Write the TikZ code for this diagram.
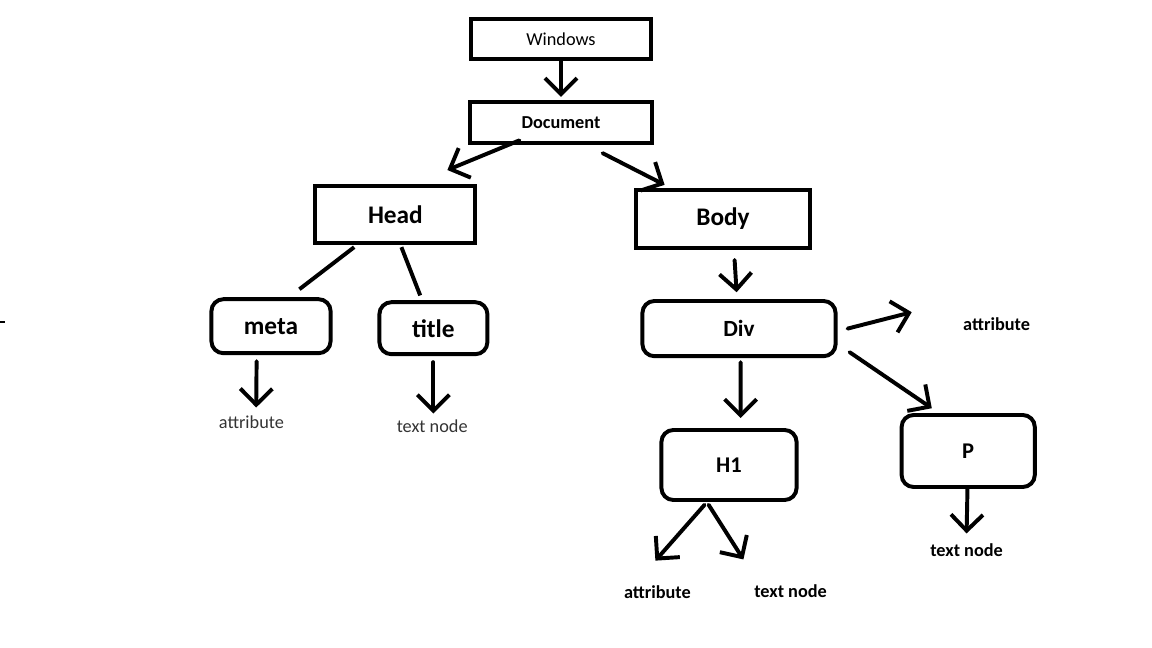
\documentclass[tikz,border=0pt]{standalone}
\usepackage{fontspec}
\setmainfont{Carlito}
\usetikzlibrary{arrows.meta}
\usetikzlibrary{positioning}
\tikzstyle{every node}+=[inner sep=0pt]
\tikzstyle{block} = [rectangle, draw, line width=2.8pt, text centered, font=\bfseries]
\tikzstyle{rblock} = [block, rounded corners=0.3cm]
\tikzstyle{line} = [draw, line width=2.8pt, line cap=round, -{Straight Barb[length=0.4cm, width=0.8cm]}]
\tikzstyle{edge} = [draw, line width=2.8pt]
\tikzstyle{value} = [black, font=\bfseries\fontsize{13}{15}\selectfont]
\tikzstyle{plainvalue} = [black!80, font=\fontsize{13}{15}\selectfont]

\begin{document}
\begin{tikzpicture}[node distance = 2cm]
            \useasboundingbox (0,0) rectangle (28.8,-16.2);
            % Place nodes
            \node [block, font=\fontsize{13}{15}\selectfont, minimum width=4.5cm, minimum height=1.0cm] (n0) at (14.025,-0.975) {Windows};
            \node [block, font=\bfseries\fontsize{13}{15}\selectfont, minimum width=4.53cm, minimum height=1.03cm, below of=n0, node distance=2.09cm] (n1) {Document};
            \node [block, font=\bfseries\fontsize{18}{20}\selectfont, minimum width=4.0cm, minimum height=1.43cm, below of=n1, node distance=2.3cm, xshift=-4.14cm] (n2) {Head};
            \node [block, font=\bfseries\fontsize{18}{20}\selectfont, minimum width=4.33cm, minimum height=1.45cm, below of=n1, node distance=2.41cm, xshift=4.05cm] (n3) {Body};
            \node [rblock, font=\bfseries\fontsize{18}{20}\selectfont, minimum width=2.98cm, minimum height=1.35cm, below of=n2, node distance=2.79cm, xshift=-3.11cm] (n4) {meta};
            \node [rblock, font=\bfseries\fontsize{18}{20}\selectfont, minimum width=2.7cm, minimum height=1.3cm, below of=n2, node distance=2.84cm, xshift=0.95cm] (n5) {title};
            \node [rblock, font=\bfseries\fontsize{16.5}{18}\selectfont, minimum width=4.83cm, minimum height=1.38cm, below of=n3, node distance=2.74cm, xshift=0.4cm] (n6) {Div};
            \node [rblock, font=\bfseries\fontsize{16}{18}\selectfont, minimum width=3.38cm, minimum height=1.75cm, below of=n6, node distance=3.41cm, xshift=-0.25cm] (n7) {H1};
            \node [rblock, font=\bfseries\fontsize{16}{18}\selectfont, minimum width=3.33cm, minimum height=1.8cm, below of=n6, node distance=3.06cm, xshift=5.73cm] (n8) {P};
            \node [plainvalue, below of=n4, node distance=2.4cm, xshift=-0.49cm] (s0) {attribute};
            \node [plainvalue, below of=n5, node distance=2.45cm, xshift=-0.03cm] (s1) {text node};
            \node [value, right of=n6, node distance=6.44cm, yshift=0.11cm] (s2) {attribute};
            \node [value, below of=n8, node distance=2.48cm, xshift=-0.04cm] (s3) {text node};
            \node [value, below of=n7, node distance=3.18cm, xshift=-1.79cm] (s4) {attribute};
            \node [value, below of=n7, node distance=3.15cm, xshift=1.54cm] (s5) {text node};
            % stray mark
            \draw [line width=1.5pt] (0,-8.05) -- (0.13,-8.05);
            % Draw edges
            \path [line] (n0) -- ([yshift=0.08cm]n1.north);
            \path [line] ([xshift=-1.04cm, yshift=0.12cm]n1.south) -- ([xshift=1.3cm, yshift=0.35cm]n2.north);
            \path [line] ([xshift=1.04cm, yshift=-0.2cm]n1.south) -- ([xshift=-1.46cm, yshift=0.08cm]n3.north);
            \path [edge] ([xshift=-1.03cm, yshift=-0.05cm]n2.south) -- ([xshift=0.71cm, yshift=0.2cm]n4.north);
            \path [edge] ([xshift=0.15cm, yshift=-0.05cm]n2.south) -- ([xshift=-0.33cm, yshift=0.12cm]n5.north);
            \path [line] ([xshift=-0.36cm, yshift=-0.15cm]n4.south) -- ([xshift=0.12cm, yshift=0.2cm]s0.north);
            \path [line] ([yshift=-0.15cm]n5.south) -- ([xshift=0.03cm, yshift=0.15cm]s1.north);
            \path [line] ([xshift=0.29cm, yshift=-0.25cm]n3.south) -- ([xshift=-0.06cm, yshift=0.17cm]n6.north);
            \path [line] ([xshift=0.25cm]n6.east) -- ([xshift=-1.28cm, yshift=0.3cm]s2.west);
            \path [line] ([xshift=0.3cm, yshift=0.15cm]n6.south east) -- ([xshift=-0.91cm, yshift=0.12cm]n8.north);
            \path [line] ([xshift=0.04cm, yshift=-0.1cm]n6.south) -- ([xshift=0.29cm, yshift=0.25cm]n7.north);
            \path [line] ([xshift=-0.61cm, yshift=-0.07cm]n7.south) -- ([xshift=-0.05cm, yshift=0.62cm]s4.north);
            \path [line] ([xshift=-0.51cm, yshift=-0.07cm]n7.south) -- ([xshift=-1.18cm, yshift=0.62cm]s5.north);
            \path [line] (n8) -- ([yshift=0.25cm]s3.north);
          \end{tikzpicture}
\end{document}
